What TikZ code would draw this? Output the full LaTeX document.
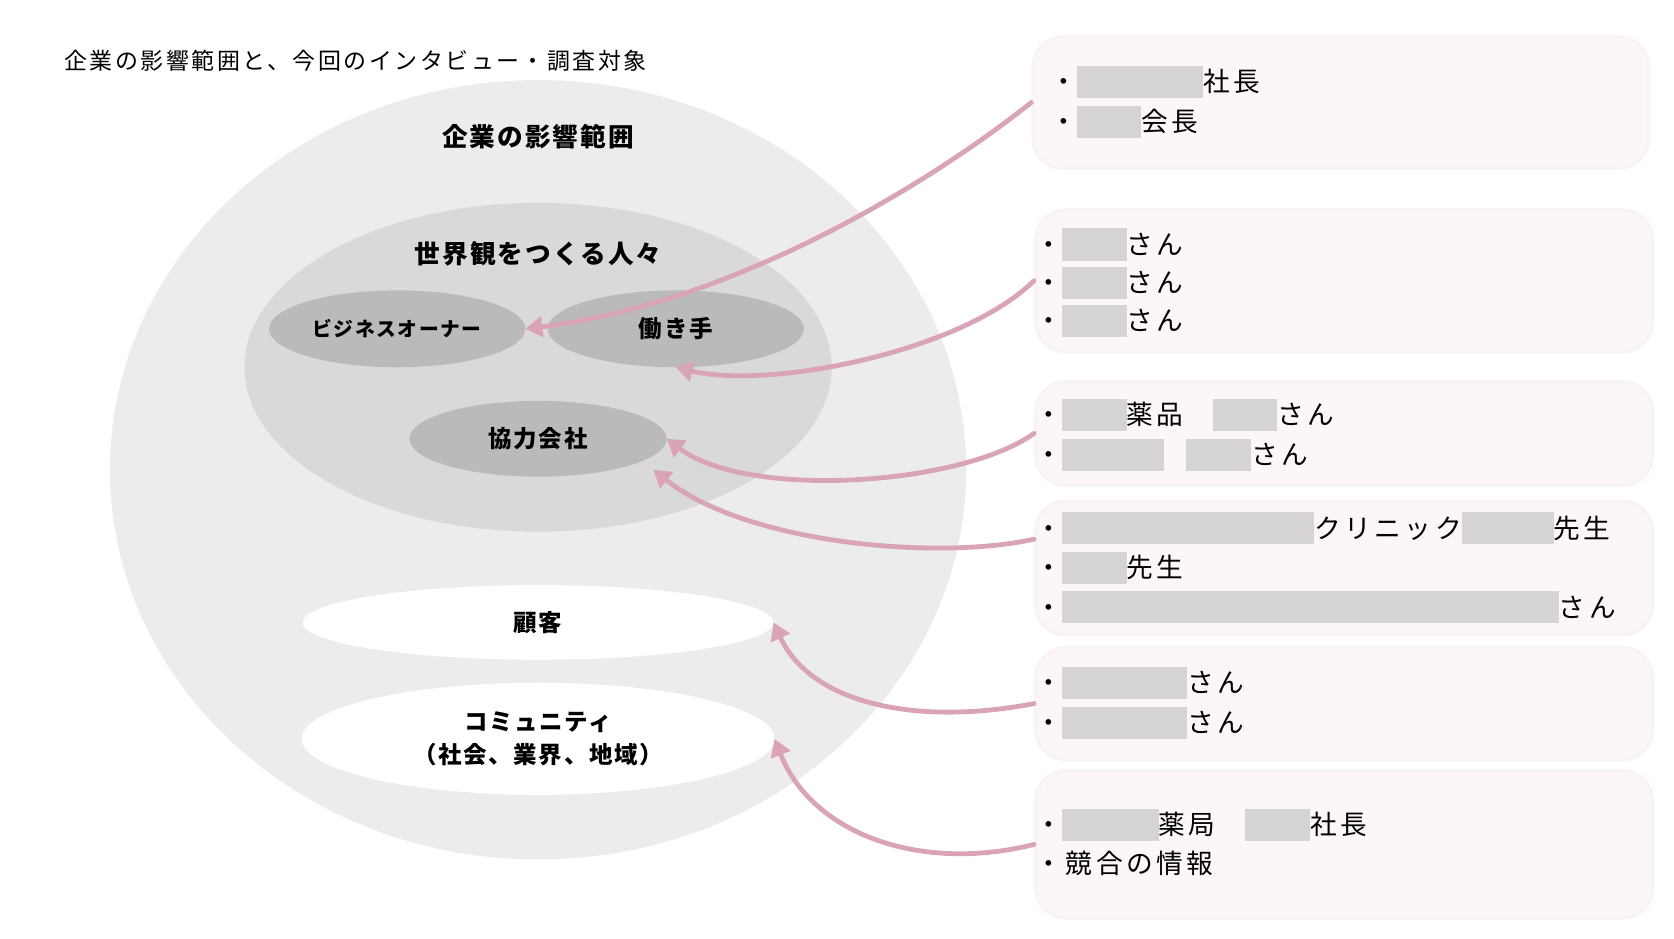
\documentclass[tikz,border=0pt]{standalone}
\usepackage{fontspec}
\setmainfont{Noto Sans CJK JP}
\usetikzlibrary{shapes.geometric}
\usetikzlibrary{arrows.meta}

\definecolor{outergray}{RGB}{236,236,236}
\definecolor{midgray}{RGB}{217,217,217}
\definecolor{coregray}{RGB}{186,186,186}
\definecolor{boxpink}{RGB}{252,246,248}
\definecolor{boxedge}{RGB}{250,243,246}
\definecolor{redact}{RGB}{214,211,213}
\definecolor{linkpink}{RGB}{218,164,184}

\newcommand{\redact}[1]{\textcolor{redact}{\rule[-6pt]{#1pt}{30pt}}}
\newcommand{\titlefont}{\fontsize{21.5}{25}\selectfont\addfontfeatures{LetterSpace=11}}
\newcommand{\zonefont}{\fontsize{24}{28}\selectfont\bfseries\addfontfeatures{LetterSpace=8}}
\newcommand{\corefont}{\fontsize{22}{31}\selectfont\bfseries\addfontfeatures{LetterSpace=7}}
\newcommand{\ownerfont}{\fontsize{18.5}{20}\selectfont\bfseries\addfontfeatures{LetterSpace=8}}
\newcommand{\listfont}{\fontsize{25}{28}\selectfont\addfontfeatures{LetterSpace=13}}

\begin{document}
\begin{tikzpicture}[x=1pt, y=-1pt]
    \tikzstyle{zone} = [ellipse, draw=none, fill={#1}, inner sep=0pt, outer sep=0pt]
    \tikzstyle{listbox} = [rectangle, rounded corners=28pt, fill=boxpink, draw=boxedge, line width=3pt]
    \tikzstyle{listline} = [anchor=west, inner sep=0pt, font=\listfont]
    \tikzstyle{link} = [line width=4.5pt, color=linkpink, line cap=round, -{Triangle[length=16pt, width=19pt]}]
    \useasboundingbox (0, 0) rectangle (1568, 879);

    \node[anchor=west, inner sep=0pt, font=\titlefont] (title) at (60, 57) {企業の影響範囲と、今回のインタビュー・調査対象};

    % zones
    \node[zone=outergray, minimum width=802pt, minimum height=730pt] (outer) at (504, 440) {};
    \node[font=\zonefont] (outerlabel) at (504, 128) {企業の影響範囲};
    \node[zone=midgray, minimum width=550pt, minimum height=308pt] (world) at (504, 344) {};
    \node[font=\zonefont] (worldlabel) at (504, 238) {世界観をつくる人々};
    \node[zone=coregray, minimum width=240pt, minimum height=72pt, font=\ownerfont] (owner) at (372, 308) {ビジネスオーナー};
    \node[zone=coregray, minimum width=240pt, minimum height=72pt, font=\corefont] (worker) at (633, 308) {働き手};
    \node[zone=coregray, minimum width=241pt, minimum height=71pt, font=\corefont] (partner) at (504, 411) {協力会社};
    \node[zone=white, minimum width=441pt, minimum height=70pt, font=\corefont] (customer) at (504, 583) {顧客};
    \node[zone=white, minimum width=443pt, minimum height=105pt, font=\corefont, align=center] (community) at (504, 692) {コミュニティ\\（社会、業界、地域）};

    % interview lists
    \node[listbox, minimum width=577pt, minimum height=123pt] (box1) at (1256, 96) {};
    \node[listbox, minimum width=578pt, minimum height=133pt] (box2) at (1259, 263) {};
    \node[listbox, minimum width=578pt, minimum height=97pt] (box3) at (1259, 406) {};
    \node[listbox, minimum width=578pt, minimum height=125pt] (box4) at (1259, 532) {};
    \node[listbox, minimum width=578pt, minimum height=105pt] (box5) at (1259, 659) {};
    \node[listbox, minimum width=578pt, minimum height=138pt] (box6) at (1259, 791) {};

    \node[listline] (l1a) at (984, 77) {・\redact{118}社長};
    \node[listline] (l1b) at (984, 114) {・\redact{60}会長};
    \node[listline] (l2a) at (970, 229) {・\redact{60}さん};
    \node[listline] (l2b) at (970, 265) {・\redact{60}さん};
    \node[listline] (l2c) at (970, 301) {・\redact{60}さん};
    \node[listline] (l3a) at (970, 389) {・\redact{60}薬品\hspace{28pt}\redact{60}さん};
    \node[listline] (l3b) at (970, 426) {・\redact{95}\hspace{21pt}\redact{61}さん};
    \node[listline] (l4a) at (970, 495) {・\redact{236}クリニック\redact{86}先生};
    \node[listline] (l4b) at (970, 532) {・\redact{60}先生};
    \node[listline] (l4c) at (970, 569) {・\redact{465}さん};
    \node[listline] (l5a) at (970, 640) {・\redact{117}さん};
    \node[listline] (l5b) at (970, 677) {・\redact{117}さん};
    \node[listline] (l6a) at (970, 773) {・\redact{90}薬局\hspace{28pt}\redact{61}社長};
    \node[listline] (l6b) at (970, 809) {・競合の情報};

    % links
    \coordinate (partnerlow) at ([xshift=108pt, yshift=-29pt]partner.center);
    \draw[link] (box1.west) .. controls (860, 180) and (680, 285) .. (owner.east);
    \draw[link] (box2.west) .. controls (900, 330) and (720, 365) .. (worker.south);
    \draw[link] (box3.west) .. controls (900, 455) and (700, 468) .. (partner.east);
    \draw[link] ([yshift=27pt]box4.west) .. controls (880, 525) and (700, 510) .. (partnerlow);
    \draw[link] (box5.west) .. controls (860, 680) and (760, 660) .. (customer.east);
    \draw[link] (box6.west) .. controls (860, 818) and (760, 780) .. (community.east);
\end{tikzpicture}
\end{document}
